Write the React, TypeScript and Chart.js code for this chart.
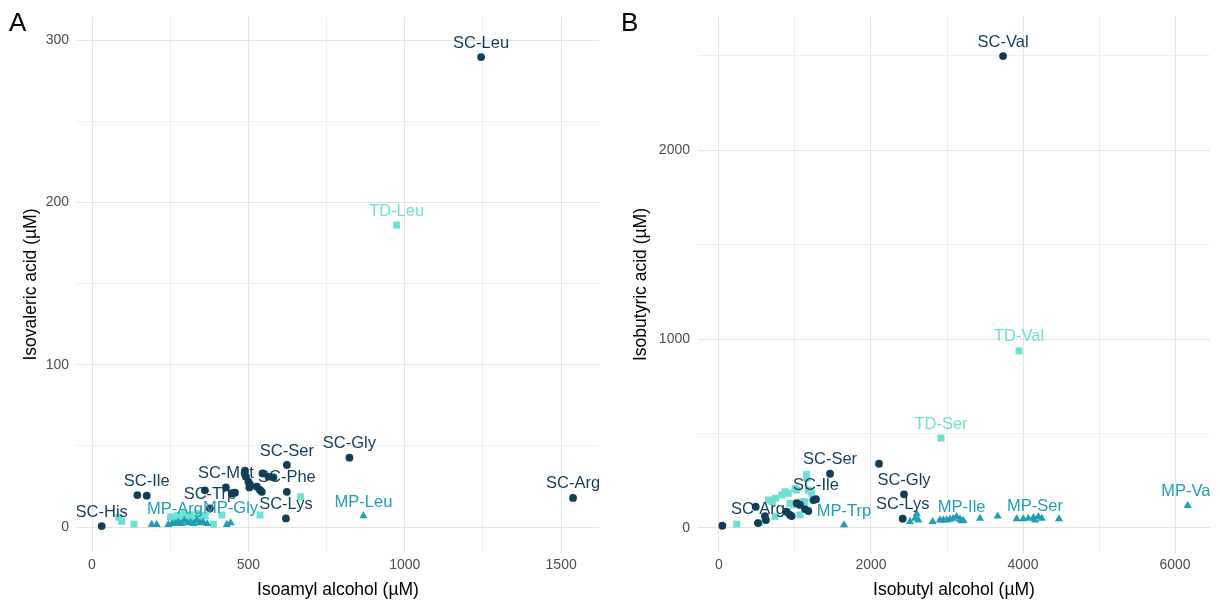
import React, { useEffect, useRef } from 'react';
import { Chart, registerables } from 'chart.js';

Chart.register(...registerables);

// ---------- Panel A: Isoamyl alcohol vs Isovaleric acid ----------
const A_SC_X = [31, 145, 175, 361, 377, 428, 447, 457, 489, 492, 500, 505, 503, 527, 537, 543, 545, 564, 580, 623, 623, 620, 823, 1244, 1538];
const A_SC_Y = [0.6, 19.7, 19.3, 22.6, 11.5, 24.4, 20.8, 21.1, 34.7, 31, 27.9, 26.3, 24.4, 24.8, 22.8, 21.7, 33, 31, 30.6, 38.2, 21.7, 5.3, 42.7, 289.5, 17.9];
const A_SC_L = ['SC-His', '', 'SC-Ile', '', 'SC-Trp', 'SC-Met', '', '', '', '', '', '', '', '', '', '', '', '', '', 'SC-Ser', 'SC-Phe', 'SC-Lys', 'SC-Gly', 'SC-Leu', 'SC-Arg'];

const A_TD_X = [85, 95, 134, 250, 262, 272, 283, 293, 303, 315, 326, 338, 350, 362, 388, 415, 537, 667, 974];
const A_TD_Y = [6, 3.5, 1.8, 6.3, 4, 7, 5, 8, 6, 7.5, 5, 8.5, 6, 7, 1.8, 7.4, 7.4, 18.7, 186];
const A_TD_L = ['', '', '', '', '', '', '', '', '', '', '', '', '', '', '', '', '', '', 'TD-Leu'];

const A_MP_X = [191, 207, 244, 256, 265, 275, 285, 295, 305, 315, 325, 335, 345, 355, 368, 431, 443, 868];
const A_MP_Y = [1.5, 1.5, 1.5, 2, 2, 3, 2, 4, 2.5, 3, 2, 4, 2.5, 3, 2, 1.5, 2.5, 6.8];
const A_MP_L = ['', '', '', '', 'MP-Arg', '', '', '', '', '', '', '', '', '', '', '', 'MP-Gly', 'MP-Leu'];

const A_X_MAJOR = [0, 500, 1000, 1500];
const A_X_MINOR = [250, 750, 1250];
const A_Y_MAJOR = [0, 100, 200, 300];
const A_Y_MINOR = [50, 150, 250];

// ---------- Panel B: Isobutyl alcohol vs Isobutyric acid ----------
const B_SC_X = [44, 483, 513, 605, 618, 890, 934, 956, 1022, 1066, 1132, 1175, 1242, 1276, 1461, 2105, 2434, 2417, 3737];
const B_SC_Y = [12, 113, 26, 63, 42, 86, 69, 63, 131, 122, 100, 90, 148, 152, 287, 340, 178, 49, 2497];
const B_SC_L = ['', '', 'SC-Arg', '', '', '', '', '', '', '', '', '', '', 'SC-Ile', 'SC-Ser', '', 'SC-Gly', 'SC-Lys', 'SC-Val'];

const B_TD_X = [233, 531, 651, 700, 737, 745, 825, 868, 912, 934, 979, 1000, 1022, 1066, 1088, 1132, 1154, 1154, 1176, 1219, 2921, 3947];
const B_TD_Y = [20, 28, 148, 139, 60, 157, 175, 192, 183, 130, 122, 210, 201, 69, 139, 139, 263, 284, 201, 183, 476, 937];
const B_TD_L = ['', '', '', '', '', '', '', '', '', '', '', '', '', '', '', '', '', '', '', '', 'TD-Ser', 'TD-Val'];

const B_MP_X = [1645, 2513, 2579, 2601, 2623, 2811, 2908, 2952, 2996, 3039, 3083, 3127, 3171, 3193, 3215, 3434, 3667, 3917, 4004, 4070, 4136, 4158, 4202, 4246, 4474, 6167];
const B_MP_Y = [16, 33, 51, 74, 42, 33, 42, 42, 42, 46, 51, 60, 46, 37, 39, 51, 63, 48, 48, 51, 54, 42, 60, 51, 48, 118];
const B_MP_L = ['MP-Trp', '', '', '', '', '', '', '', '', '', '', '', '', 'MP-Ile', '', '', '', '', '', '', '', 'MP-Ser', '', '', '', 'MP-Val'];

const B_X_MAJOR = [0, 2000, 4000, 6000];
const B_X_MINOR = [1000, 3000, 5000];
const B_Y_MAJOR = [0, 1000, 2000];
const B_Y_MINOR = [500, 1500, 2500];

// ---------- styles ----------
const SC_COLOR = '#113d57';
const TD_COLOR = '#6edfd3';
const MP_COLOR = '#1f9db3';
const FONT = '"Liberation Sans", Arial, Helvetica, sans-serif';

function pts(xs: number[], ys: number[], ls: string[]) {
  return xs.map((x, i) => ({ x, y: ys[i], label: ls[i] || '' }));
}

const labelPlugin = {
  id: 'pointLabels',
  afterDatasetsDraw(chart: any) {
    const { ctx, chartArea } = chart;
    ctx.save();
    ctx.beginPath();
    ctx.rect(chartArea.left, chartArea.top, chartArea.right - chartArea.left, chartArea.bottom - chartArea.top);
    ctx.clip();
    ctx.font = `16.5px ${FONT}`;
    ctx.textAlign = 'center';
    ctx.textBaseline = 'middle';
    chart.data.datasets.forEach((ds: any, di: number) => {
      const meta = chart.getDatasetMeta(di);
      ctx.fillStyle = ds.backgroundColor;
      ds.data.forEach((d: any, i: number) => {
        if (d.label) {
          const el = meta.data[i];
          ctx.fillText(d.label, el.x, el.y - 14);
        }
      });
    });
    ctx.restore();
  },
};

const letterPlugin = {
  id: 'panelLetter',
  afterDraw(chart: any, _args: any, opts: any) {
    const { ctx } = chart;
    ctx.save();
    ctx.font = `26px ${FONT}`;
    ctx.fillStyle = '#000';
    ctx.textAlign = 'left';
    ctx.textBaseline = 'alphabetic';
    ctx.fillText(opts.text, opts.x, 31);
    ctx.restore();
  },
};

interface PanelSpec {
  letter: string;
  letterX: number;
  sc: any[];
  td: any[];
  mp: any[];
  xMin: number;
  xMax: number;
  yMin: number;
  yMax: number;
  xMajor: number[];
  xMinor: number[];
  yMajor: number[];
  yMinor: number[];
  xTitle: string;
  yTitle: string;
  yAxisWidth: number;
  padRight: number;
}

function axis(min: number, max: number, major: number[], minor: number[], title: string, horizontal: boolean, size: number) {
  const all = [...major, ...minor].sort((a, b) => a - b);
  return {
    type: 'linear',
    min,
    max,
    afterBuildTicks: (s: any) => {
      s.ticks = all.map((v) => ({ value: v }));
    },
    afterFit: (s: any) => {
      if (horizontal) s.height = size;
      else s.width = size;
    },
    ticks: {
      autoSkip: false,
      maxRotation: 0,
      minRotation: 0,
      padding: horizontal ? 5 : 8,
      color: '#4d4d4d',
      font: { family: FONT, size: 14 },
      callback: (v: number) => (major.includes(v) ? String(v) : ''),
    },
    grid: {
      drawTicks: false,
      color: (c: any) => (c.tick && major.includes(c.tick.value) ? '#e3e3e3' : '#efefef'),
      lineWidth: 1,
    },
    border: { display: false },
    title: {
      display: true,
      text: title,
      color: '#000',
      font: { family: FONT, size: 17.5 },
      padding: horizontal ? { top: 0, bottom: 4.5 } : { top: 20.5, bottom: 0 },
    },
  };
}

function makeConfig(p: PanelSpec): any {
  return {
    type: 'scatter',
    data: {
      datasets: [
        { label: 'SC', data: p.sc, backgroundColor: SC_COLOR, borderColor: SC_COLOR, borderWidth: 0, pointStyle: 'circle', pointRadius: 3.9, pointHoverRadius: 3.9 },
        { label: 'MP', data: p.mp, backgroundColor: MP_COLOR, borderColor: MP_COLOR, borderWidth: 0, pointStyle: 'triangle', pointRadius: 4.7, pointHoverRadius: 4.7 },
        { label: 'TD', data: p.td, backgroundColor: TD_COLOR, borderColor: TD_COLOR, borderWidth: 0, pointStyle: 'rect', pointRadius: 4.9, pointHoverRadius: 4.9 },
      ],
    },
    options: {
      animation: false,
      responsive: false,
      maintainAspectRatio: false,
      devicePixelRatio: 1,
      events: [],
      layout: { padding: { top: 17, right: p.padRight, left: 0, bottom: 0 } },
      plugins: {
        legend: { display: false },
        tooltip: { enabled: false },
        panelLetter: { text: p.letter, x: p.letterX },
      },
      scales: {
        x: axis(p.xMin, p.xMax, p.xMajor, p.xMinor, p.xTitle, true, 53),
        y: axis(p.yMin, p.yMax, p.yMajor, p.yMinor, p.yTitle, false, p.yAxisWidth),
      },
    },
    plugins: [labelPlugin, letterPlugin],
  };
}

export default function App() {
  const refA = useRef<HTMLCanvasElement | null>(null);
  const refB = useRef<HTMLCanvasElement | null>(null);

  useEffect(() => {
    document.body.style.margin = '0';
    const specA: PanelSpec = {
      letter: 'A',
      letterX: 9,
      sc: pts(A_SC_X, A_SC_Y, A_SC_L),
      td: pts(A_TD_X, A_TD_Y, A_TD_L),
      mp: pts(A_MP_X, A_MP_Y, A_MP_L),
      xMin: -48,
      xMax: 1621,
      yMin: -15.4,
      yMax: 314.2,
      xMajor: A_X_MAJOR,
      xMinor: A_X_MINOR,
      yMajor: A_Y_MAJOR,
      yMinor: A_Y_MINOR,
      xTitle: 'Isoamyl alcohol (µM)',
      yTitle: 'Isovaleric acid (µM)',
      yAxisWidth: 77,
      padRight: 11,
    };
    const specB: PanelSpec = {
      letter: 'B',
      letterX: 11,
      sc: pts(B_SC_X, B_SC_Y, B_SC_L),
      td: pts(B_TD_X, B_TD_Y, B_TD_L),
      mp: pts(B_MP_X, B_MP_Y, B_MP_L),
      xMin: -276,
      xMax: 6460,
      yMin: -127,
      yMax: 2704,
      xMajor: B_X_MAJOR,
      xMinor: B_X_MINOR,
      yMajor: B_Y_MAJOR,
      yMinor: B_Y_MINOR,
      xTitle: 'Isobutyl alcohol (µM)',
      yTitle: 'Isobutyric acid (µM)',
      yAxisWidth: 88,
      padRight: 10,
    };
    const a = new Chart(refA.current as HTMLCanvasElement, makeConfig(specA));
    const b = new Chart(refB.current as HTMLCanvasElement, makeConfig(specB));
    return () => {
      a.destroy();
      b.destroy();
    };
  }, []);

  return (
    <div style={{ position: 'relative', width: 1220, height: 605, background: '#fff', overflow: 'hidden' }}>
      <canvas ref={refA} width={610} height={605} style={{ position: 'absolute', left: 0, top: 0, width: 610, height: 605 }} />
      <canvas ref={refB} width={610} height={605} style={{ position: 'absolute', left: 610, top: 0, width: 610, height: 605 }} />
    </div>
  );
}
